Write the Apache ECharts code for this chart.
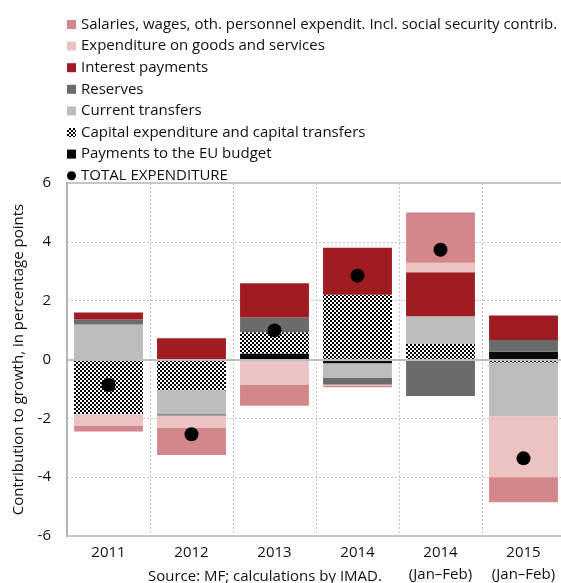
<!DOCTYPE html>
<html>
<head>
<meta charset="utf-8">
<script src="https://cdn.jsdelivr.net/npm/echarts@6/dist/echarts.min.js"></script>
<style>
  html, body { margin: 0; padding: 0; background: #fff; }
  #chart { width: 561px; height: 583px; }
</style>
</head>
<body>
<div id="chart"></div>
<script>
// Categories and contributions to growth of expenditure (percentage points)
const categories = ['2011', '2012', '2013', '2014', '2014\n(Jan\u2013Feb)', '2015\n(Jan\u2013Feb)'];
const salaries = [-0.19, -0.92, -0.70, -0.05, 1.71, -0.85];
const goodsServices = [-0.40, -0.42, -0.82, -0.03, 0.32, -2.06];
const interest = [0.24, 0.72, 1.16, 1.60, 1.50, 0.84];
const reserves = [0.17, -0.05, 0.50, -0.23, -1.24, 0.40];
const currentTransfers = [1.19, -0.81, -0.05, -0.49, 0.94, -1.83];
const capital = [-1.86, -1.05, 0.73, 2.20, 0.53, -0.11];
const euBudget = [0, 0, 0.20, -0.14, 0, 0.26];
const totalExpenditure = [-0.87, -2.54, 0.99, 2.85, 3.73, -3.36];
const yTicks = [-6, -4, -2, 0, 2, 4, 6];

const FONT = '"Open Sans"';

// Black-on-white checked texture for capital expenditure
function makePattern() {
  const c = document.createElement('canvas');
  c.width = 4; c.height = 4;
  const ctx = c.getContext('2d');
  ctx.fillStyle = '#fff';
  ctx.fillRect(0, 0, 4, 4);
  ctx.fillStyle = '#000';
  ctx.fillRect(2, 0, 2, 2);
  ctx.fillRect(0, 2, 2, 2);
  return c;
}
const capitalFill = { image: makePattern(), repeat: 'repeat' };

function bar(name, data, color) {
  return {
    name, type: 'bar', stack: 'total', data,
    barWidth: '83%',
    itemStyle: { color },
    emphasis: { disabled: true }
  };
}

const series = [
  Object.assign(bar('Payments to the EU budget', euBudget, '#0a0a0a'), {
    markLine: {
      silent: true, symbol: ['none', 'none'], z: 10,
      label: { show: false },
      lineStyle: { color: '#bdbdbd', width: 2, type: 'solid' },
      data: [{ yAxis: 0 }]
    }
  }),
  bar('Capital expenditure and capital transfers', capital, capitalFill),
  bar('Current transfers', currentTransfers, '#bdbdbd'),
  bar('Reserves', reserves, '#6a6b6b'),
  bar('Interest payments', interest, '#9e1c22'),
  bar('Expenditure on goods and services', goodsServices, '#ebc3c3'),
  bar('Salaries, wages, oth. personnel expendit. Incl. social security contrib.', salaries, '#d3878a'),
  {
    name: 'TOTAL EXPENDITURE', type: 'scatter', data: totalExpenditure,
    symbol: 'circle', symbolSize: 14, z: 20,
    itemStyle: { color: '#000', opacity: 1 }
  }
];

const chart = echarts.init(document.getElementById('chart'), null, { renderer: 'canvas' });
chart.setOption({
  animation: false,
  backgroundColor: '#fff',
  textStyle: { fontFamily: FONT },
  legend: {
    orient: 'vertical', left: 62, top: 12,
    itemWidth: 9, itemHeight: 9, itemGap: 6.6,
    textStyle: { fontFamily: FONT, fontSize: 15, color: '#111' },
    data: [
      { name: 'Salaries, wages, oth. personnel expendit. Incl. social security contrib.', icon: 'rect' },
      { name: 'Expenditure on goods and services', icon: 'rect' },
      { name: 'Interest payments', icon: 'rect' },
      { name: 'Reserves', icon: 'rect' },
      { name: 'Current transfers', icon: 'rect' },
      { name: 'Capital expenditure and capital transfers', icon: 'rect' },
      { name: 'Payments to the EU budget', icon: 'rect' },
      { name: 'TOTAL EXPENDITURE', icon: 'circle' }
    ],
    selectedMode: false
  },
  grid: {
    left: 67, top: 183, width: 498, height: 353,
    outerBoundsMode: 'none', containLabel: false,
    show: true, borderColor: '#b5b5b5', borderWidth: 1.5, backgroundColor: 'transparent'
  },
  xAxis: {
    type: 'category', data: categories,
    axisLine: { show: false },
    axisTick: { show: false },
    axisLabel: { fontFamily: FONT, fontSize: 15, color: '#111', margin: 6, lineHeight: 22 },
    splitLine: { show: true, lineStyle: { color: '#c4c4c4', type: [2, 2], width: 1 } }
  },
  yAxis: {
    type: 'value', min: yTicks[0], max: yTicks[yTicks.length - 1], interval: 2,
    name: 'Contribution to growth, in percentage points',
    nameLocation: 'middle', nameGap: 31,
    nameTextStyle: { fontFamily: FONT, fontSize: 15, color: '#111' },
    axisLine: { show: true, lineStyle: { color: '#b5b5b5', width: 2 } },
    axisTick: { show: false },
    axisLabel: { fontFamily: FONT, fontSize: 15, color: '#111', margin: 16 },
    splitLine: { show: true, lineStyle: { color: '#c4c4c4', type: [2, 2], width: 1 } }
  },
  graphic: [{
    type: 'text', left: 148, top: 569,
    style: { text: 'Source: MF; calculations by IMAD.', fontFamily: FONT, fontSize: 15, fill: '#111' }
  }],
  series
});
</script>
</body>
</html>
